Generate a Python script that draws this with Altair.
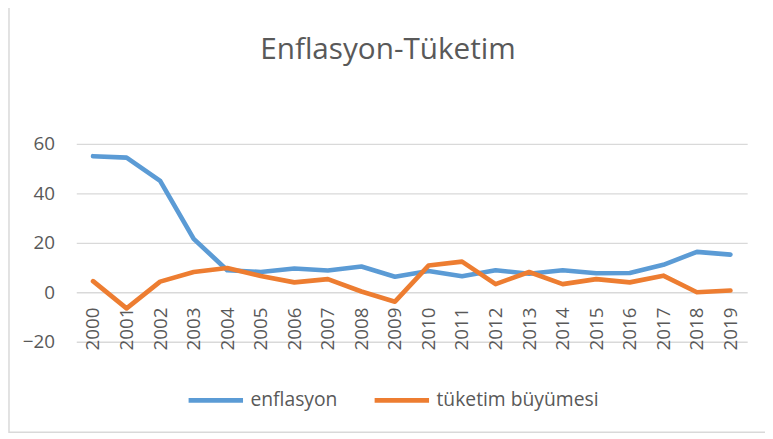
import altair as alt
import pandas as pd

years = [str(y) for y in range(2000, 2020)]
enflasyon = [55.0, 54.4, 45.0, 21.6, 8.9, 8.2, 9.6, 8.8, 10.4, 6.3,
             8.6, 6.5, 8.9, 7.5, 8.9, 7.7, 7.8, 11.1, 16.3, 15.2]
tuketim = [4.5, -6.5, 4.3, 8.2, 9.8, 6.6, 4.0, 5.3, 0.3, -3.8,
           10.8, 12.4, 3.3, 8.2, 3.3, 5.3, 4.0, 6.7, 0.0, 0.7]
series = ["enflasyon", "tüketim büyümesi"]
colors = ["#5B9BD5", "#ED7D31"]
title_text = "Enflasyon-Tüketim"

df = pd.DataFrame({
    "yil": years * 2,
    "deger": enflasyon + tuketim,
    "seri": [series[0]] * len(years) + [series[1]] * len(years),
})

FONT = "Open Sans"
GREY = "#595959"
W, H = 678, 200

lines = alt.Chart(df).mark_line(strokeWidth=4.7, strokeCap="round", strokeJoin="round").encode(
    x=alt.X("yil:O", sort=years, title=None,
            scale=alt.Scale(type="point", padding=0.5),
            axis=alt.Axis(labelAngle=-90, offset=-50, ticks=False, domain=False,
                          labelPadding=15, labelFontSize=19, labelFont=FONT,
                          labelColor=GREY, grid=False)),
    y=alt.Y("deger:Q", title=None,
            scale=alt.Scale(domain=[-20, 60], nice=False),
            axis=alt.Axis(values=[-20, 0, 20, 40, 60], ticks=False, domain=False,
                          labelPadding=22, labelFontSize=19, labelFont=FONT,
                          labelColor=GREY, gridColor="#D9D9D9", gridWidth=1.3)),
    color=alt.Color("seri:N", sort=series,
                    scale=alt.Scale(domain=series, range=colors),
                    legend=alt.Legend(title=None, orient="none", direction="horizontal",
                                      legendX=111, legendY=229,
                                      symbolType="stroke", symbolSize=3025,
                                      symbolStrokeWidth=4.7, labelFontSize=19.5,
                                      labelFont=FONT, labelColor=GREY, labelLimit=400,
                                      labelOffset=5, columnPadding=28)),
)

title = alt.Chart(pd.DataFrame({"t": [title_text]})).mark_text(
    font=FONT, fontSize=30, color=GREY, align="center", baseline="alphabetic"
).encode(text="t:N", x=alt.value(315), y=alt.value(-86))

border = alt.Chart(pd.DataFrame({"a": [0]})).mark_rect(
    fill=None, stroke="#D9D9D9", strokeWidth=1.5
).encode(
    x=alt.value(-68), x2=alt.value(900), y=alt.value(-300), y2=alt.value(291.5)
)

chart = alt.layer(border, title, lines).properties(
    width=W, height=H,
    autosize=alt.AutoSizeParams(type="none"),
    padding={"left": 69, "top": 135, "right": 18, "bottom": 94},
).configure_view(stroke=None)

chart.save("out.html", embed_options={"renderer": "svg", "actions": False})
